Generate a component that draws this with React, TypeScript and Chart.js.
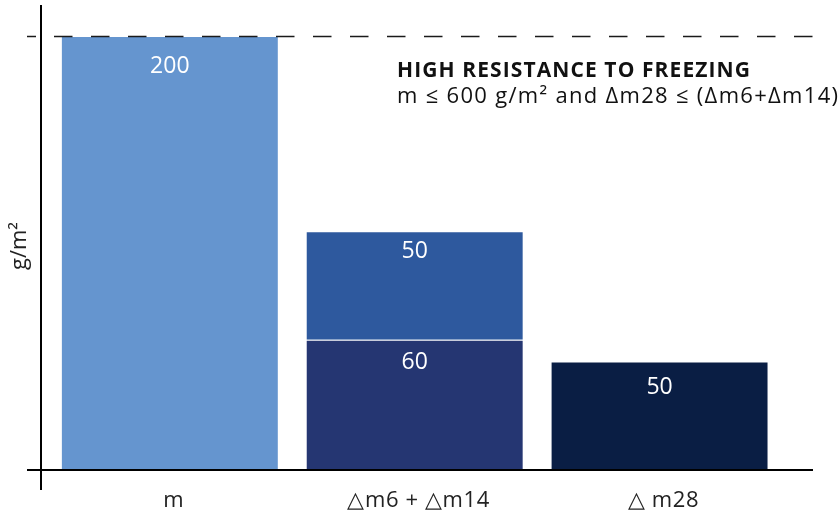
import React, { useEffect, useRef } from "react";
import { Chart, registerables } from "chart.js";

Chart.register(...registerables);

const categories = ["m", "△m6 + △m14", "△ m28"];
const massLoss = [200, null, null];
const deltaM6 = [null, 60, null];
const deltaM14 = [null, 50, null];
const deltaM28 = [null, null, 50];
const limitValue = 200;
const headline = "HIGH RESISTANCE TO FREEZING";
const criterion = "m ≤ 600 g/m² and Δm28 ≤ (Δm6+Δm14)";

const FONT = "'Open Sans', 'Noto Sans', sans-serif";

// distance from each bar's top edge to its value label baseline
const labelDrop = [37, 29, 27, 32];

// draw text so that it spans exactly the given width
function fitText(ctx: any, text: string, x: number, y: number, width: number) {
  ctx.letterSpacing = "0px";
  const w = ctx.measureText(text).width;
  const spacing = (width - w) / Math.max(1, text.length - 1);
  ctx.letterSpacing = `${spacing}px`;
  ctx.fillText(text, x, y);
  ctx.letterSpacing = "0px";
}

// Axis lines, category labels, the dashed limit line, value labels and the criterion note
const overlayPlugin = {
  id: "overlay",
  afterDatasetsDraw(chart: any) {
    const { ctx, scales } = chart;
    const x = scales.x;
    const y = scales.y;
    const base = y.getPixelForValue(0);
    ctx.save();

    // limit line
    const ly = Math.round(y.getPixelForValue(limitValue)) + 0.5;
    ctx.strokeStyle = "#1a1a1a";
    ctx.lineWidth = 1.5;
    ctx.setLineDash([18.5, 18.5]);
    ctx.beginPath();
    ctx.moveTo(54, ly);
    ctx.lineTo(825, ly);
    ctx.stroke();
    ctx.setLineDash([]);
    ctx.beginPath();
    ctx.moveTo(27, ly);
    ctx.lineTo(36, ly);
    ctx.stroke();

    // axes
    ctx.strokeStyle = "#000";
    ctx.lineWidth = 2;
    ctx.beginPath();
    ctx.moveTo(41, 5);
    ctx.lineTo(41, base + 20);
    ctx.moveTo(27, base);
    ctx.lineTo(813, base);
    ctx.stroke();

    // category labels
    ctx.fillStyle = "#222";
    ctx.font = `22px ${FONT}`;
    ctx.textAlign = "center";
    ctx.textBaseline = "alphabetic";
    ctx.letterSpacing = "0.6px";
    categories.forEach((c, i) => {
      ctx.fillText(c, x.getPixelForTick(i) + 4, base + 37);
    });
    ctx.letterSpacing = "0px";

    // value labels
    ctx.fillStyle = "#fff";
    ctx.font = `23px ${FONT}`;
    chart.data.datasets.forEach((ds: any, di: number) => {
      const meta = chart.getDatasetMeta(di);
      meta.data.forEach((bar: any, i: number) => {
        const v = ds.data[i];
        if (v == null) return;
        ctx.fillText(String(v), bar.x, bar.y + labelDrop[di]);
      });
    });

    // criterion note
    ctx.fillStyle = "#111";
    ctx.textAlign = "left";
    ctx.font = `bold 21px ${FONT}`;
    fitText(ctx, headline, 397, 77, 353);
    ctx.font = `22px ${FONT}`;
    fitText(ctx, criterion, 397, 103, 441);
    ctx.restore();
  },
};

export default function App() {
  const ref = useRef<HTMLCanvasElement>(null);

  useEffect(() => {
    if (!ref.current) return;
    const edge = "rgba(255,255,255,0.55)";
    const chart = new Chart(ref.current, {
      type: "bar",
      data: {
        labels: categories,
        datasets: [
          { label: "m", data: massLoss, backgroundColor: "#6595cf", borderColor: edge, borderWidth: 1 },
          { label: "Δm6", data: deltaM6, backgroundColor: "#253672", borderColor: edge, borderWidth: 1 },
          { label: "Δm14", data: deltaM14, backgroundColor: "#2e599e", borderColor: edge, borderWidth: 1 },
          { label: "Δm28", data: deltaM28, backgroundColor: "#0a1e44", borderColor: edge, borderWidth: 1 },
        ] as any,
      },
      options: {
        responsive: false,
        animation: false,
        layout: { padding: { left: 0, right: 58, top: 22, bottom: 42 } },
        datasets: { bar: { barPercentage: 0.89, categoryPercentage: 1 } },
        plugins: { legend: { display: false }, tooltip: { enabled: false } },
        scales: {
          x: {
            stacked: true,
            grid: { display: false, drawTicks: false },
            border: { display: false },
            ticks: { display: false },
          },
          y: {
            stacked: true,
            min: 0,
            max: 206.5,
            grid: { display: false, drawTicks: false },
            border: { display: false },
            ticks: { display: false },
            title: {
              display: true,
              text: "g/m²",
              color: "#222",
              font: { family: FONT, size: 22 },
              padding: { top: 7, bottom: 14 },
            },
          },
        },
      },
      plugins: [overlayPlugin],
    });
    return () => chart.destroy();
  }, []);

  return (
    <div style={{ position: "absolute", left: 0, top: 0, width: 840, height: 512, background: "#fff" }}>
      <canvas ref={ref} width={840} height={512} style={{ display: "block" }} />
    </div>
  );
}
